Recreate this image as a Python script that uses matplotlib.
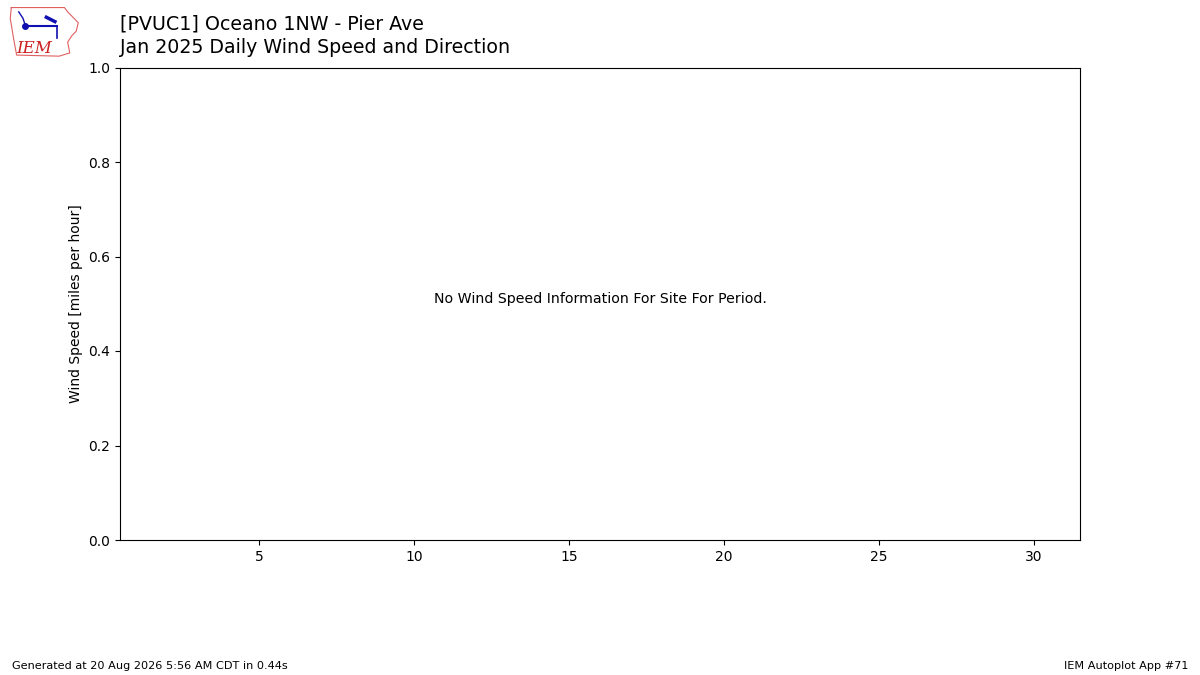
import matplotlib
matplotlib.use("Agg")
import matplotlib.pyplot as plt

# Chart texts
station_title = "[PVUC1] Oceano 1NW - Pier Ave"
subtitle = "Jan 2025 Daily Wind Speed and Direction"
ylabel = "Wind Speed [miles per hour]"
no_data_msg = "No Wind Speed Information For Site For Period."
footer_left = "Generated at 20 Aug 2026 5:56 AM CDT in 0.44s"
footer_right = "IEM Autoplot App #71"

# Axis ranges / ticks
days_in_month = 31
xticks = [5, 10, 15, 20, 25, 30]
ylim = (0.0, 1.0)

fig = plt.figure(figsize=(12, 6.75), dpi=100)
ax = fig.add_axes([0.1, 0.2, 0.8, 0.7])

ax.set_xlim(0.5, days_in_month + 0.5)
ax.set_ylim(*ylim)
ax.set_xticks(xticks)
ax.set_ylabel(ylabel)
ax.text(0.5, 0.51, no_data_msg, transform=ax.transAxes,
        ha="center", va="center", fontsize=10.2)

fig.text(0.1, 0.965, station_title, fontsize=13.7, va="center", ha="left")
fig.text(0.1, 0.93, subtitle, fontsize=13.7, va="center", ha="left")

fig.text(0.01, 0.014, footer_left, fontsize=8.15, va="center", ha="left")
fig.text(0.99, 0.014, footer_right, fontsize=8.15, va="center", ha="right")

# rough IEM logo in the top-left corner
lax = fig.add_axes([0.005, 0.912, 0.062, 0.08])
lax.set_xlim(0, 70)
lax.set_ylim(0, 50)
lax.axis("off")
outline_x = [5, 55, 58, 62, 68, 66, 62, 58, 60, 50, 10, 7, 4, 5]
outline_y = [48, 48, 44, 40, 34, 26, 22, 16, 6, 3, 4, 20, 38, 48]
lax.plot(outline_x, outline_y, color="#e06060", lw=0.8)
lax.plot([18, 48], [31, 31], color="#1010b0", lw=1.5)
lax.plot([18], [31], "o", color="#1010b0", ms=4)
lax.plot([48, 48], [31, 20], color="#1010b0", lw=1.2)
lax.plot([38, 46], [39, 35], color="#1010b0", lw=2.5)
lax.plot([12, 16, 18], [44, 38, 32], color="#1010b0", lw=1)
lax.text(10, 10, "IEM", color="#cc2020", fontsize=12, family="serif",
         style="italic", va="center", ha="left")

fig.savefig("out.png", dpi=100)
